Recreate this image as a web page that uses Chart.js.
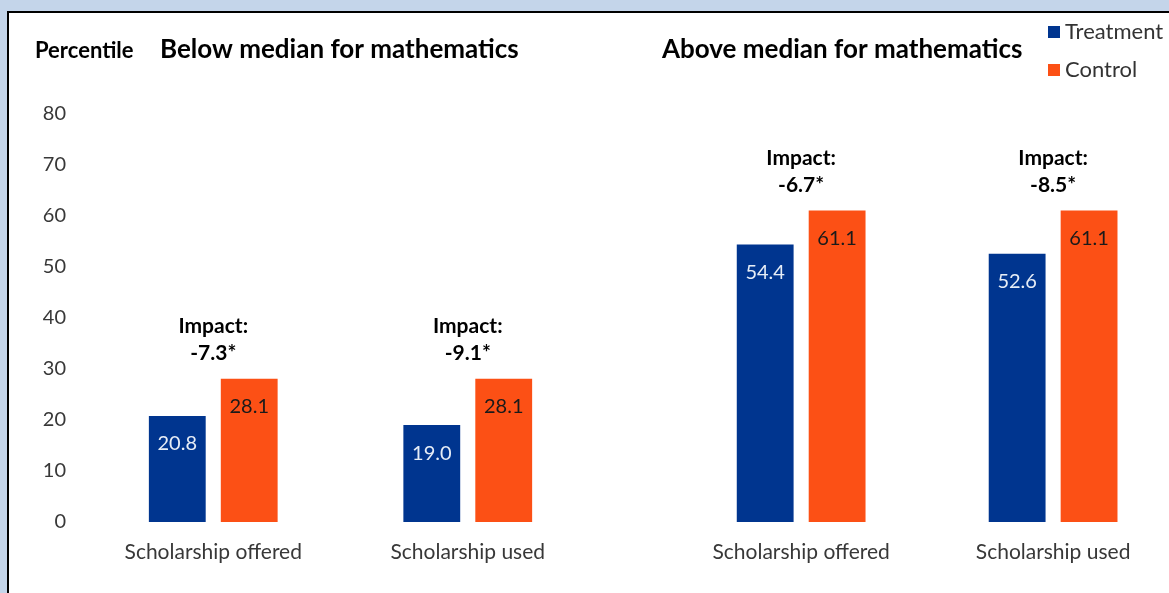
<!DOCTYPE html>
<html>
<head>
<meta charset="utf-8">
<script src="https://cdn.jsdelivr.net/npm/chart.js@4"></script>
<style>
    html, body { margin: 0; padding: 0; width: 1169px; height: 593px; overflow: hidden; background: #c4d5ea; }
    .frame { position: absolute; left: 7px; top: 11px; right: 0; bottom: 0; background: #fff; border-left: 2px solid #000; border-top: 2px solid #000; }
    #chart { position: absolute; left: 0; top: 0; }
</style>
</head>
<body>
<div class="frame"></div>
<canvas id="chart" width="1169" height="593"></canvas>
<script>
// 数据
const categories = ['Scholarship offered', 'Scholarship used', 'Scholarship offered', 'Scholarship used'];
const treatment = [20.8, 19.0, 54.4, 52.6];
const control = [28.1, 28.1, 61.1, 61.1];
const impacts = ['-7.3*', '-9.1*', '-6.7*', '-8.5*'];
const yTicks = [0, 10, 20, 30, 40, 50, 60, 70, 80];
const panelTitles = ['Below median for mathematics', 'Above median for mathematics'];

// 版式：组在线性 x 轴上的位置（两块面板之间留空）
const slots = [0.5, 1.5, 2.81, 3.8];
const FONT = 'Lato, "Open Sans", sans-serif';
const BLUE = '#00358f';
const ORANGE = '#fc5015';

// 自定义文字：标题、图例、数值标签、Impact 注释
const annotations = {
    id: 'annotations',
    afterDatasetsDraw(chart) {
        const ctx = chart.ctx;
        const x = chart.scales.x;
        const y = chart.scales.y;
        ctx.save();
        ctx.textBaseline = 'middle';

        // 数值标签
        chart.data.datasets.forEach((ds, di) => {
            const meta = chart.getDatasetMeta(di);
            ctx.font = '20px ' + FONT;
            ctx.fillStyle = di === 0 ? '#e6edf6' : '#1a1a1a';
            ctx.textAlign = 'center';
            meta.data.forEach((bar, i) => {
                ctx.fillText(ds.data[i].y.toFixed(1), bar.x, bar.y + 28);
            });
        });

        // Impact 注释
        ctx.font = 'bold 21px ' + FONT;
        ctx.fillStyle = '#000';
        impacts.forEach((txt, i) => {
            const cx = x.getPixelForValue(slots[i]);
            const top = y.getPixelForValue(control[i]);
            ctx.fillText('Impact:', cx, top - 52);
            ctx.fillText(txt, cx, top - 25);
        });

        // 标题
        ctx.textAlign = 'left';
        ctx.font = 'bold 22px ' + FONT;
        ctx.fillText('Percentile', 35, 51);
        ctx.font = 'bold 26px ' + FONT;
        ctx.fillText(panelTitles[0], 160, 50);
        ctx.fillText(panelTitles[1], 662, 50);

        // 图例
        ctx.font = '22px ' + FONT;
        chart.data.datasets.forEach((ds, di) => {
            const ly = 32 + di * 38;
            ctx.fillStyle = ds.backgroundColor;
            ctx.fillRect(1048, ly - 6, 12, 12);
            ctx.fillStyle = '#333';
            ctx.fillText(ds.label, 1065, ly);
        });
        ctx.restore();
    }
};

new Chart(document.getElementById('chart'), {
    type: 'bar',
    data: {
        datasets: [{
            label: 'Treatment',
            data: treatment.map((v, i) => ({ x: slots[i], y: v })),
            backgroundColor: BLUE
        }, {
            label: 'Control',
            data: control.map((v, i) => ({ x: slots[i], y: v })),
            backgroundColor: ORANGE
        }]
    },
    options: {
        responsive: false,
        animation: false,
        categoryPercentage: 0.571,
        barPercentage: 0.79,
        layout: {
            padding: { top: 114, right: 9, bottom: 0, left: 0 }
        },
        plugins: {
            legend: { display: false },
            tooltip: { enabled: false }
        },
        scales: {
            x: {
                type: 'linear',
                min: 0,
                max: 4.22,
                offset: false,
                grid: { display: false, drawTicks: false, offset: false },
                border: { display: false },
                afterBuildTicks: scale => {
                    scale.ticks = slots.map(v => ({ value: v }));
                },
                afterFit: scale => { scale.height = 71; },
                ticks: {
                    padding: 18,
                    autoSkip: false,
                    maxRotation: 0,
                    color: '#383838',
                    font: { family: FONT, size: 21 },
                    callback: (value, index) => categories[index]
                }
            },
            y: {
                min: 0,
                max: 80,
                grid: { display: false, drawTicks: false },
                border: { display: false },
                afterBuildTicks: scale => {
                    scale.ticks = yTicks.map(v => ({ value: v }));
                },
                afterFit: scale => { scale.width = 86; },
                ticks: {
                    padding: 20,
                    color: '#383838',
                    font: { family: FONT, size: 20 }
                }
            }
        }
    },
    plugins: [annotations]
});
</script>
</body>
</html>
